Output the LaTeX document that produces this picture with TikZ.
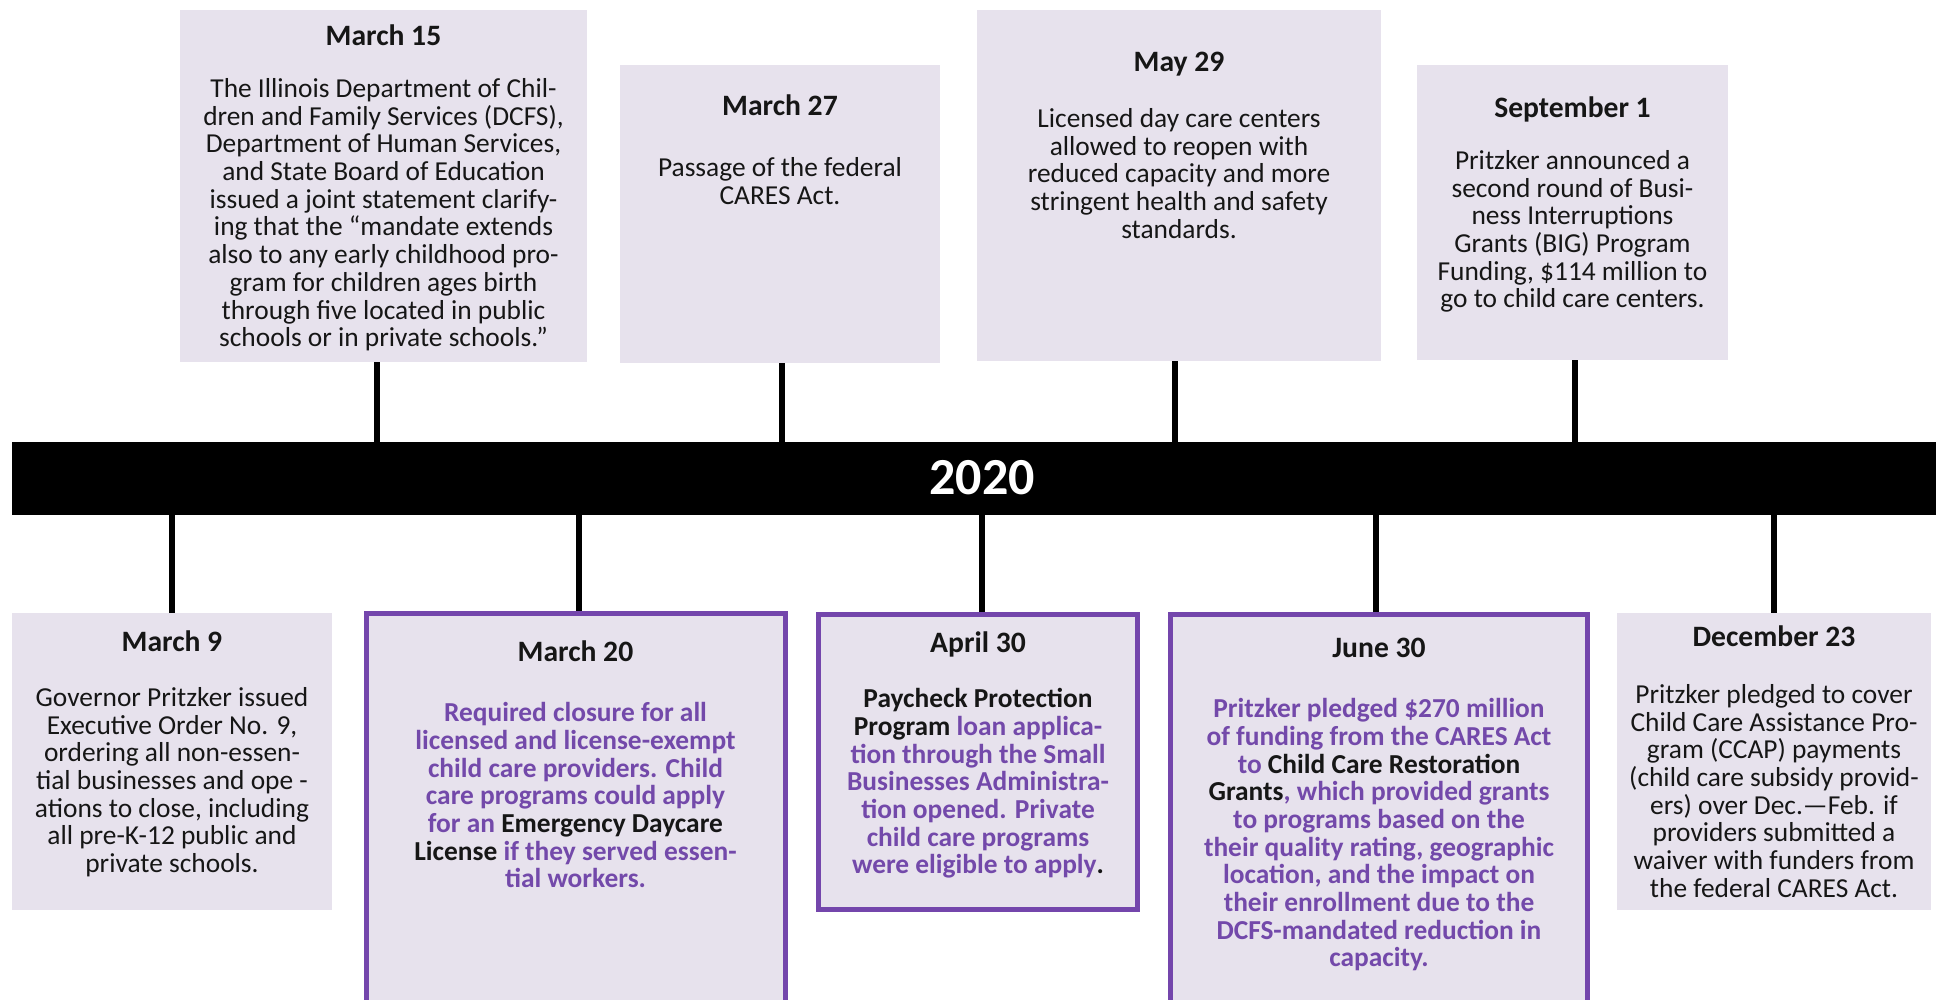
\documentclass[tikz,border=0pt]{standalone}
\usepackage{fontspec}
\setmainfont{Carlito}
\definecolor{boxfill}{HTML}{E7E2ED}
\definecolor{purp}{HTML}{7446AC}
\definecolor{purptext}{HTML}{7349AA}
\definecolor{ink}{HTML}{161616}
\newcommand{\bodyfont}{\fontsize{13.7}{13.85}\selectfont}
\newcommand{\hl}[1]{\textcolor{ink}{#1}}
\tikzset{
  evbox/.style={rectangle, fill=boxfill, draw=none, inner sep=0pt},
  keybox/.style={rectangle, fill=boxfill, draw=purp, line width=2.5pt, inner sep=0pt},
  conn/.style={draw=black, line width=3pt},
  head/.style={anchor=base, inner sep=0pt, text=ink, font=\fontsize{14.8}{16}\selectfont\bfseries},
  body/.style={anchor=north, inner sep=0pt, align=center, text=ink, font=\bodyfont},
  keybody/.style={body, text=purptext, font=\bodyfont\bfseries},
}
\begin{document}
\begin{tikzpicture}[x=0.5pt, y=-0.5pt]
\useasboundingbox (0,0) rectangle (1936,1000);
\clip (0,0) rectangle (1936,1000);
\fill[white] (0,0) rectangle (1936,1000);

% event boxes above the bar
\node[evbox, minimum width=203.5pt, minimum height=176pt] (m15) at (383.5,186) {};
\node[evbox, minimum width=160pt, minimum height=149pt] (m27) at (780,214) {};
\node[evbox, minimum width=202pt, minimum height=175.5pt] (y29) at (1179,185.5) {};
\node[evbox, minimum width=155.5pt, minimum height=147.5pt] (s01) at (1572.5,212.5) {};

% event boxes below the bar
\node[evbox, minimum width=160pt, minimum height=148.5pt] (m09) at (172,761.5) {};
\node[keybox, minimum width=209.5pt, minimum height=199.5pt] (m20) at (575.5,812.5) {};
\node[keybox, minimum width=159.5pt, minimum height=147.5pt] (a30) at (978,762) {};
\node[keybox, minimum width=208.5pt, minimum height=198.5pt] (j30) at (1379,813) {};
\node[evbox, minimum width=157pt, minimum height=148.5pt] (d23) at (1774,761.5) {};

% the year bar
\node[rectangle, fill=black, inner sep=0pt, minimum width=964pt, minimum height=36.5pt] (bar) at (976,478.5) {};
\node[inner sep=0pt, text=white, font=\fontsize{26}{30}\selectfont\bfseries] (year) at (982,478) {2020};

% ticks joining boxes to the bar
\foreach \b/\dx in {m15/-3.25pt, m27/1pt, y29/-2pt, s01/1.25pt}
  \draw[conn] ([xshift=\dx]\b.south) -- ([xshift=\dx]\b.south |- bar.north);
\foreach \b/\dx in {m09/0pt, m20/1.75pt, a30/1.75pt, j30/-1.75pt, d23/0pt}
  \draw[conn] ([xshift=\dx]\b.north) -- ([xshift=\dx]\b.north |- bar.south);

% headings
\node[head] (m15h) at (383.5,46) {March 15};
\node[head] (m27h) at (780,116) {March 27};
\node[head] (y29h) at (1179,72) {May 29};
\node[head] (s01h) at (1572.5,118) {September 1};
\node[head] (m09h) at (172,651) {March 9};
\node[head] (m20h) at (575.5,661) {March 20};
\node[head] (a30h) at (978,652) {April 30};
\node[head] (j30h) at (1379,657) {June 30};
\node[head] (d23h) at (1774,646) {December 23};

% descriptions
\node[body] (m15t) at (383.5,78) {The Illinois Department of Chil-\\dren and Family Services (DCFS),\\Department of Human Services,\\and State Board of Education\\issued a joint statement clarify-\\ing that the “mandate extends\\also to any early childhood pro-\\gram for children ages birth\\through five located in public\\schools or in private schools.”};
\node[body] (m27t) at (780,157) {Passage of the federal\\CARES Act.};
\node[body] (y29t) at (1179,108) {Licensed day care centers\\allowed to reopen with\\reduced capacity and more\\stringent health and safety\\standards.};
\node[body] (s01t) at (1572.5,150) {Pritzker announced a\\second round of Busi-\\ness Interruptions\\Grants (BIG) Program\\Funding, \$114 million to\\go to child care centers.};
\node[body] (m09t) at (172,687) {Governor Pritzker issued\\Executive Order No. 9,\\ordering all non-essen-\\tial businesses and ope -\\ations to close, including\\all pre-K-12 public and\\private schools.};
\node[keybody] (m20t) at (575.5,702) {Required closure for all\\licensed and license-exempt\\child care providers. Child\\care programs could apply\\for an \hl{Emergency Daycare}\\\hl{License} if they served essen-\\tial workers.};
\node[keybody] (a30t) at (978,688) {\hl{Paycheck Protection}\\\hl{Program} loan applica-\\tion through the Small\\Businesses Administra-\\tion opened. Private\\child care programs\\were eligible to apply\hl{.}};
\node[keybody] (j30t) at (1379,698) {Pritzker pledged \$270 million\\of funding from the CARES Act\\to \hl{Child Care Restoration}\\\hl{Grants}, which provided grants\\to programs based on the\\their quality rating, geographic\\location, and the impact on\\their enrollment due to the\\DCFS-mandated reduction in\\capacity.};
\node[body] (d23t) at (1774,684) {Pritzker pledged to cover\\Child Care Assistance Pro-\\gram (CCAP) payments\\(child care subsidy provid-\\ers) over Dec.—Feb. if\\providers submitted a\\waiver with funders from\\the federal CARES Act.};
\end{tikzpicture}
\end{document}
